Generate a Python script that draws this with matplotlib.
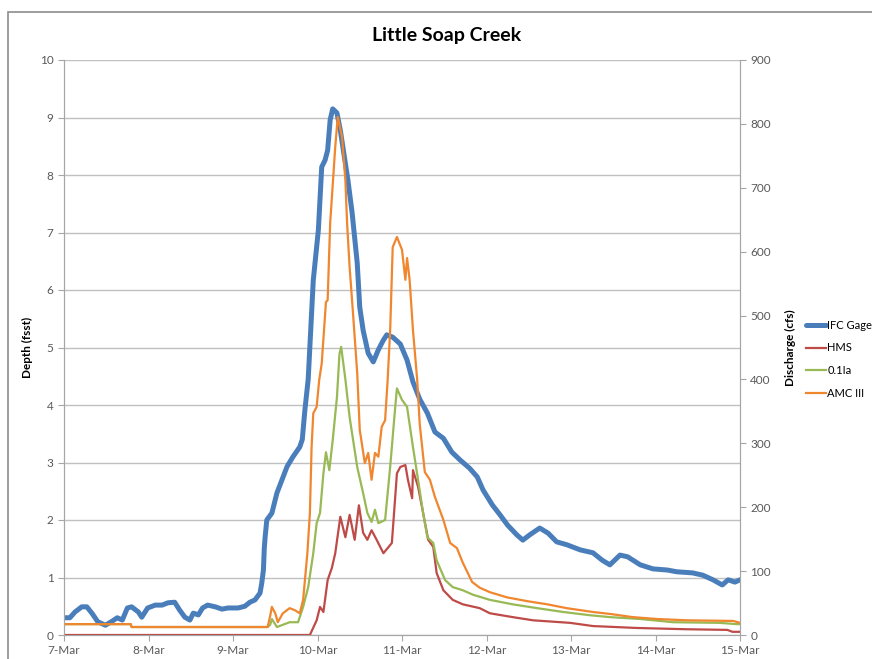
import matplotlib
matplotlib.use('Agg')
import matplotlib.pyplot as plt
from matplotlib.patches import Rectangle

# Dados (dias desde 7-Mar 00:00)
dias_labels = ['7-Mar', '8-Mar', '9-Mar', '10-Mar', '11-Mar', '12-Mar', '13-Mar', '14-Mar', '15-Mar']

ifc_dias = [0.00, 0.07, 0.13, 0.21, 0.27, 0.33, 0.40, 0.49, 0.57, 0.63, 0.69, 0.75, 0.80, 0.88,
            0.92, 0.99, 1.08, 1.16, 1.23, 1.31, 1.37, 1.43, 1.49, 1.53, 1.59, 1.64, 1.70, 1.79,
            1.87, 1.94, 2.06, 2.14, 2.20, 2.26, 2.32, 2.34, 2.36, 2.37, 2.38, 2.40, 2.46, 2.52,
            2.58, 2.64, 2.71, 2.79, 2.82, 2.85, 2.89, 2.95, 3.01, 3.05, 3.09, 3.12, 3.15, 3.18,
            3.23, 3.27, 3.30, 3.36, 3.41, 3.47, 3.50, 3.54, 3.60, 3.66, 3.72, 3.78, 3.82, 3.89,
            3.98, 4.06, 4.13, 4.21, 4.30, 4.39, 4.49, 4.59, 4.69, 4.80, 4.89, 4.96, 5.07, 5.16,
            5.25, 5.36, 5.43, 5.51, 5.63, 5.73, 5.83, 5.95, 6.11, 6.26, 6.37, 6.46, 6.58, 6.67,
            6.82, 6.97, 7.14, 7.25, 7.44, 7.56, 7.68, 7.79, 7.86, 7.94, 8.00]
ifc_prof = [0.30, 0.30, 0.40, 0.49, 0.49, 0.38, 0.23, 0.17, 0.24, 0.30, 0.26, 0.47, 0.49, 0.40,
            0.31, 0.47, 0.52, 0.52, 0.56, 0.57, 0.43, 0.31, 0.26, 0.38, 0.35, 0.47, 0.52, 0.49,
            0.45, 0.47, 0.47, 0.50, 0.57, 0.61, 0.73, 0.90, 1.13, 1.50, 1.70, 2.00, 2.12, 2.47,
            2.70, 2.93, 3.10, 3.27, 3.40, 3.90, 4.45, 6.17, 7.04, 8.14, 8.26, 8.43, 8.96, 9.15,
            9.08, 8.78, 8.49, 7.91, 7.34, 6.47, 5.70, 5.30, 4.90, 4.75, 4.96, 5.13, 5.22, 5.18,
            5.06, 4.78, 4.40, 4.10, 3.86, 3.53, 3.42, 3.18, 3.04, 2.90, 2.75, 2.52, 2.26, 2.09,
            1.91, 1.74, 1.65, 1.74, 1.86, 1.77, 1.62, 1.57, 1.48, 1.43, 1.30, 1.22, 1.39, 1.36,
            1.22, 1.15, 1.13, 1.10, 1.08, 1.04, 0.96, 0.87, 0.96, 0.92, 0.96]

hms_dias = [0.00, 2.91, 2.99, 3.03, 3.07, 3.12, 3.17, 3.21, 3.27, 3.33, 3.38, 3.44, 3.49, 3.54,
            3.59, 3.64, 3.70, 3.78, 3.83, 3.88, 3.94, 3.98, 4.04, 4.07, 4.12, 4.13, 4.19, 4.25,
            4.31, 4.37, 4.41, 4.49, 4.60, 4.72, 4.92, 5.04, 5.31, 5.55, 5.99, 6.26, 6.78, 7.37,
            7.85, 7.91, 8.00]
hms_q = [0, 0, 23, 44, 36, 86, 105, 128, 185, 153, 188, 149, 203, 160,
         149, 164, 149, 128, 136, 144, 253, 263, 266, 243, 214, 258, 232, 191,
         149, 138, 97, 70, 55, 48, 42, 34, 28, 23, 19, 14, 11, 9,
         8, 5, 5]

ia_dias = [0.00, 0.79, 0.80, 2.41, 2.44, 2.46, 2.52, 2.59, 2.67, 2.77, 2.83, 2.89, 2.95, 2.99,
           3.03, 3.07, 3.10, 3.14, 3.18, 3.23, 3.26, 3.28, 3.33, 3.38, 3.47, 3.54, 3.59, 3.64,
           3.68, 3.72, 3.80, 3.86, 3.92, 3.94, 4.00, 4.06, 4.13, 4.19, 4.25, 4.30, 4.37, 4.41,
           4.51, 4.60, 4.72, 4.84, 5.04, 5.31, 5.60, 5.91, 6.22, 6.46, 6.82, 7.21, 7.76, 7.96, 8.00]
ia_q = [17, 17, 12.5, 12.5, 16, 25, 12.5, 16, 20, 20, 44, 75, 128, 175,
        191, 253, 286, 258, 305, 372, 440, 451, 400, 341, 263, 222, 191, 177,
        196, 175, 180, 263, 357, 386, 368, 357, 294, 243, 191, 153, 144, 117,
        86, 75, 70, 63, 55, 48, 42, 36, 31, 28, 25, 20, 19, 17, 17]

amc_dias = [0.00, 0.79, 0.80, 2.41, 2.44, 2.46, 2.50, 2.53, 2.59, 2.67, 2.73, 2.79, 2.83, 2.88,
            2.91, 2.93, 2.95, 2.99, 3.02, 3.05, 3.10, 3.12, 3.15, 3.21, 3.24, 3.29, 3.33, 3.35,
            3.38, 3.42, 3.47, 3.50, 3.56, 3.60, 3.64, 3.68, 3.72, 3.76, 3.80, 3.83, 3.86, 3.89,
            3.94, 4.00, 4.04, 4.06, 4.09, 4.13, 4.18, 4.21, 4.27, 4.33, 4.39, 4.49, 4.57, 4.65,
            4.72, 4.83, 4.92, 5.04, 5.24, 5.48, 5.72, 5.95, 6.26, 6.46, 6.73, 7.02, 7.37, 7.92, 8.00]
amc_q = [17, 17, 12.5, 12.5, 30, 44, 34, 20, 34, 42, 39, 34, 55, 128,
         191, 294, 347, 357, 399, 425, 521, 524, 645, 764, 811, 780, 712, 645,
         576, 504, 410, 321, 269, 285, 243, 285, 279, 326, 336, 399, 477, 607,
         623, 603, 556, 590, 556, 477, 399, 330, 255, 243, 216, 180, 144, 136,
         113, 83, 74, 67, 59, 53, 48, 42, 36, 33, 28, 25, 23, 22, 19]

cinza = '#595959'
plt.rcParams['font.family'] = ['Lato', 'DejaVu Sans']

fig = plt.figure(figsize=(8.72, 6.59), dpi=100)
fig.patches.append(Rectangle((8 / 872, -0.05), 1.2, 1.05 - 12 / 659, transform=fig.transFigure,
                             fill=False, edgecolor='#8c8c8c', linewidth=1.2))

ax = fig.add_axes([64 / 872, 1 - 635 / 659, 676 / 872, 575 / 659])
ax2 = ax.twinx()

l1, = ax.plot(ifc_dias, ifc_prof, color='#4A7EBB', linewidth=3.6, solid_capstyle='round',
              solid_joinstyle='round', label='IFC Gage')
l2, = ax2.plot(hms_dias, hms_q, color='#BE4B48', linewidth=1.6, label='HMS')
l3, = ax2.plot(ia_dias, ia_q, color='#98B954', linewidth=1.6, label='0.1Ia')
l4, = ax2.plot(amc_dias, amc_q, color='#F0862E', linewidth=1.6, label='AMC III')

ax.set_xlim(0, 8)
ax.set_ylim(0, 10)
ax2.set_ylim(0, 900)
ax.set_yticks(range(0, 11))
ax2.set_yticks(range(0, 901, 100))
ax.set_xticks(range(len(dias_labels)))
ax.set_xticklabels(dias_labels)

ax.yaxis.grid(True, color='#c0c0c0', linewidth=1)
ax.set_axisbelow(True)

for a in (ax, ax2):
    a.spines['top'].set_visible(False)
    for s in ('left', 'right', 'bottom'):
        a.spines[s].set_color('#a6a6a6')
    a.tick_params(colors='#a6a6a6', labelcolor=cinza, labelsize=8.5, length=4, width=0.8)
ax.tick_params(axis='x', pad=3)

ax.set_ylabel('Depth (fsst)', fontsize=8.5, fontweight='bold', labelpad=5)
ax2.set_ylabel('Discharge (cfs)', fontsize=8.5, fontweight='bold', labelpad=10)

fig.text(447 / 872, 1 - 35 / 659, 'Little Soap Creek', ha='center', va='center',
         fontsize=14, fontweight='bold')

fig.legend([l1, l2, l3, l4], ['IFC Gage', 'HMS', '0.1Ia', 'AMC III'], loc='upper left',
           bbox_to_anchor=(0.913, 0.53), frameon=False, fontsize=8, handlelength=1.8,
           handletextpad=0.1, labelspacing=1.05)

fig.savefig('out.png', dpi=100)
